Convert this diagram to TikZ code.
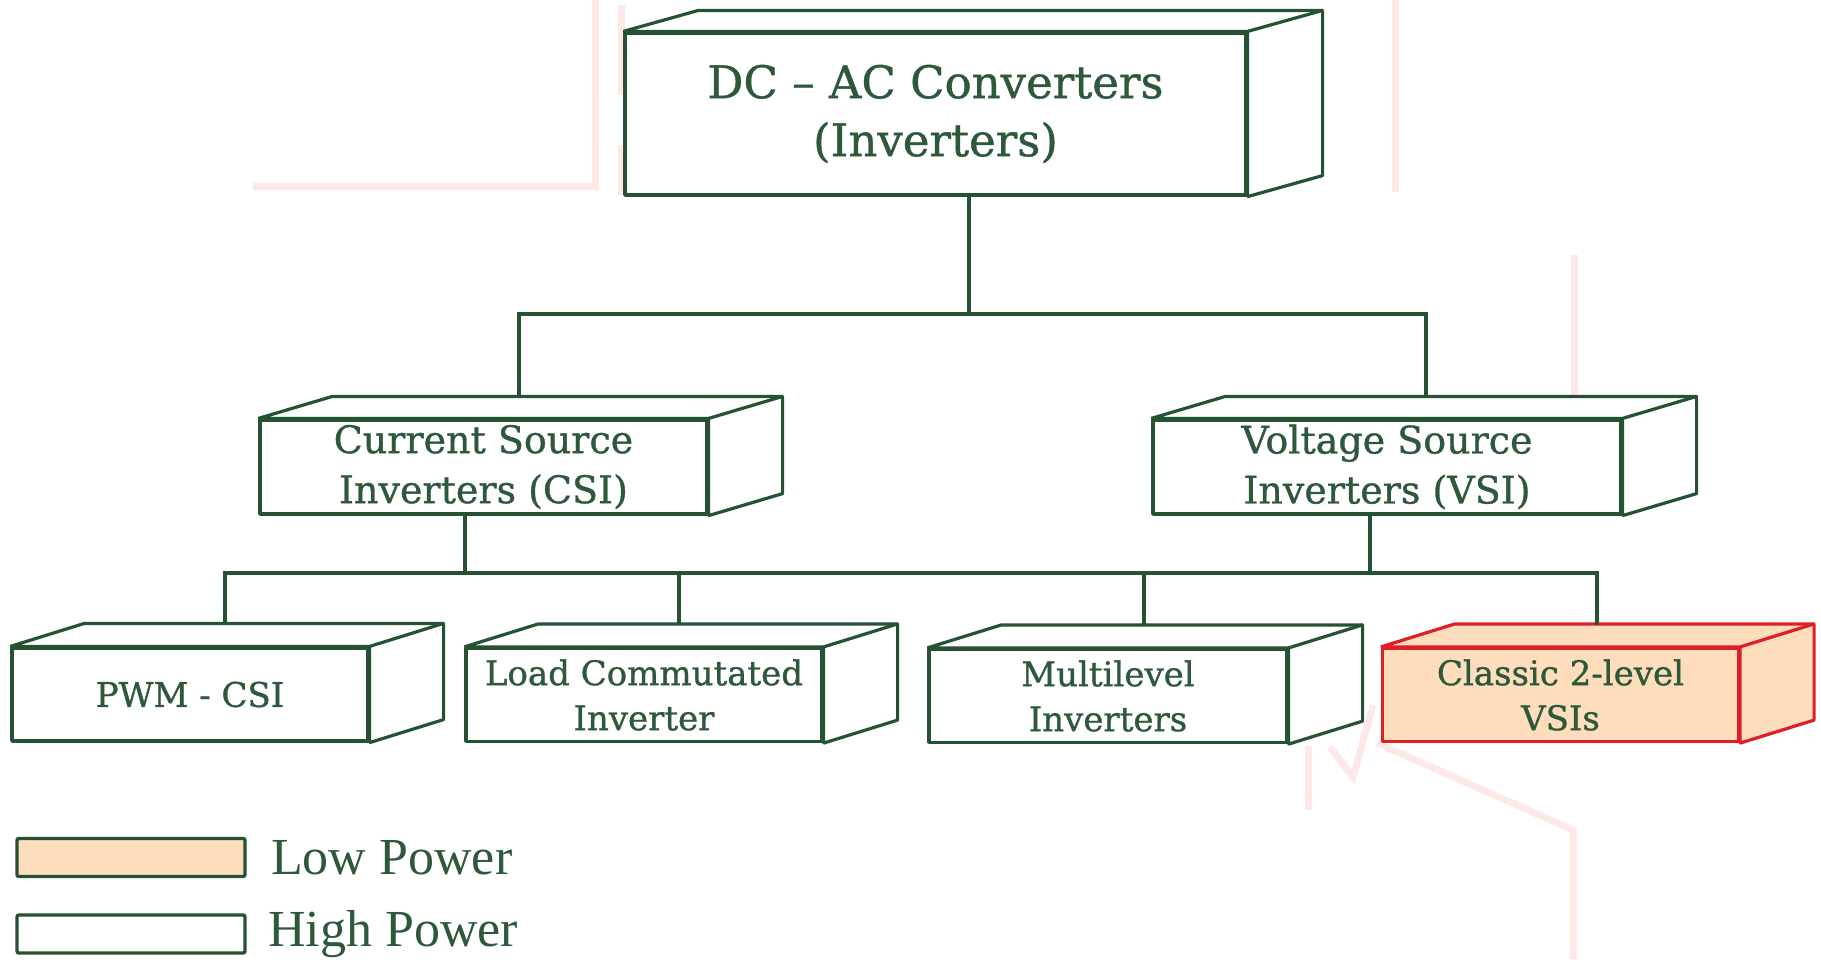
\documentclass[tikz,border=0pt]{standalone}
\usepackage{fontspec}
\usetikzlibrary{calc}
\newfontfamily\boxfont{DejaVu Serif}[FakeBold=0.9]
\newfontfamily\legfont{Liberation Serif}
\definecolor{dg}{RGB}{38,82,52}
\definecolor{dgtext}{RGB}{45,88,58}
\definecolor{peach}{RGB}{253,221,188}
\definecolor{redb}{RGB}{222,30,40}
\definecolor{wm}{RGB}{253,232,232}
\tikzset{
  face/.style={draw=dg, line width=3.2pt, fill=white, line join=bevel},
  lowface/.style={draw=redb, line width=3.2pt, fill=peach, line join=bevel},
  topbox/.style={face, minimum width=621pt, minimum height=162pt, inner sep=0pt, align=center, text=dgtext,
    font=\boxfont\fontsize{45}{58}\selectfont},
  midbox/.style={face, minimum width=447pt, minimum height=94pt, inner sep=0pt, align=center, text=dgtext,
    font=\boxfont\fontsize{38}{50}\selectfont},
  botbox/.style={face, minimum width=356pt, minimum height=93pt, inner sep=0pt, align=center, text=dgtext,
    font=\boxfont\fontsize{34}{45}\selectfont},
  link/.style={draw=dg, line width=3.2pt},
  wmline/.style={draw=wm, line width=7pt},
  legbox/.style={draw=dg, line width=3.4pt, rounded corners=2pt, minimum width=228pt, minimum height=38pt, inner sep=0pt},
  legtext/.style={anchor=west, text=dgtext, inner sep=0pt, font=\legfont\fontsize{52}{60}\selectfont},
}
% draws top and side faces of a box; #1 node name, #2 depth offset, #3 style
\newcommand{\cubefaces}[3]{%
  \filldraw[#3] (#1.north west) -- ++(#2) coordinate (#1-btl)
    -- ($(#1.north east)+(#2)$) coordinate (#1-btr)
    -- ($(#1.south east)+(#2)$) -- (#1.south east) -- (#1.north east) -- cycle;
  \draw[#3, fill=none] (#1.north east) -- (#1-btr);
}
\begin{document}
\begin{tikzpicture}[x=1pt,y=-1pt]
\useasboundingbox (0,0) rectangle (1821,959);
% faint background marks
\draw[wmline] (253,186) -- (595,186) -- (595,0);
\draw[wmline] (621,5) -- (621,95);
\draw[wmline] (621,145) -- (621,195);
\draw[wmline] (1395,0) -- (1395,192);
\draw[wmline] (1574,255) -- (1574,398);
\draw[wmline] (1308,746) -- (1308,810);
\draw[wmline] (1330,747) -- (1353,777) -- (1373,705);
\draw[wmline] (1377,743) -- (1573,830) -- (1573,959);
% boxes
\node[topbox] (top) at (935.5,114) {DC \textendash{} AC Converters\\(Inverters)};
\cubefaces{top}{75,-21}{face}
\node[midbox] (csi) at (483.5,467) {Current Source\\Inverters (CSI)};
\cubefaces{csi}{74,-22}{face}
\node[midbox, minimum width=468pt] (vsi) at (1387,467) {Voltage Source\\Inverters (VSI)};
\cubefaces{vsi}{74,-22}{face}
\node[botbox] (pwm) at (190,694.5) {PWM - CSI};
\cubefaces{pwm}{74,-23}{face}
\node[botbox] (lci) at (644,695) {Load Commutated\\Inverter};
\cubefaces{lci}{74,-23}{face}
\node[botbox, minimum width=358pt] (mli) at (1108,696) {Multilevel\\Inverters};
\cubefaces{mli}{74,-23}{face}
\node[botbox, lowface] (cls) at (1560.5,695) {Classic 2-level\\VSIs};
\cubefaces{cls}{74,-23}{lowface}
% connectors
\coordinate (j1) at (969,314);
\coordinate (csiin) at (519,398);
\coordinate (vsiin) at (1426,398);
\draw[link] (top.south -| j1) -- (j1);
\draw[link] (csiin) |- (j1) -| (vsiin);
\coordinate (j2) at (465,573);
\coordinate (j3) at (1370,573);
\draw[link] (csi.south -| j2) -- (j2);
\draw[link] (vsi.south -| j3) -- (j3);
\coordinate (p1) at (225,625);
\coordinate (p2) at (679,625);
\coordinate (p3) at (1144,626);
\coordinate (p4) at (1597,625);
\draw[link] (p1) |- (j2) -- (j3) -| (p4);
\draw[link] (p2) -- (p2 |- j2);
\draw[link] (p3) -- (p3 |- j2);
% legend
\node[legbox, fill=peach] (low) at (131,857.5) {};
\node[legbox, fill=white] (high) at (131,934) {};
\node[legtext] (lowt) at (271,857.5) {Low Power};
\node[legtext] (hight) at (268,934) {High Power};
\end{tikzpicture}
\end{document}
